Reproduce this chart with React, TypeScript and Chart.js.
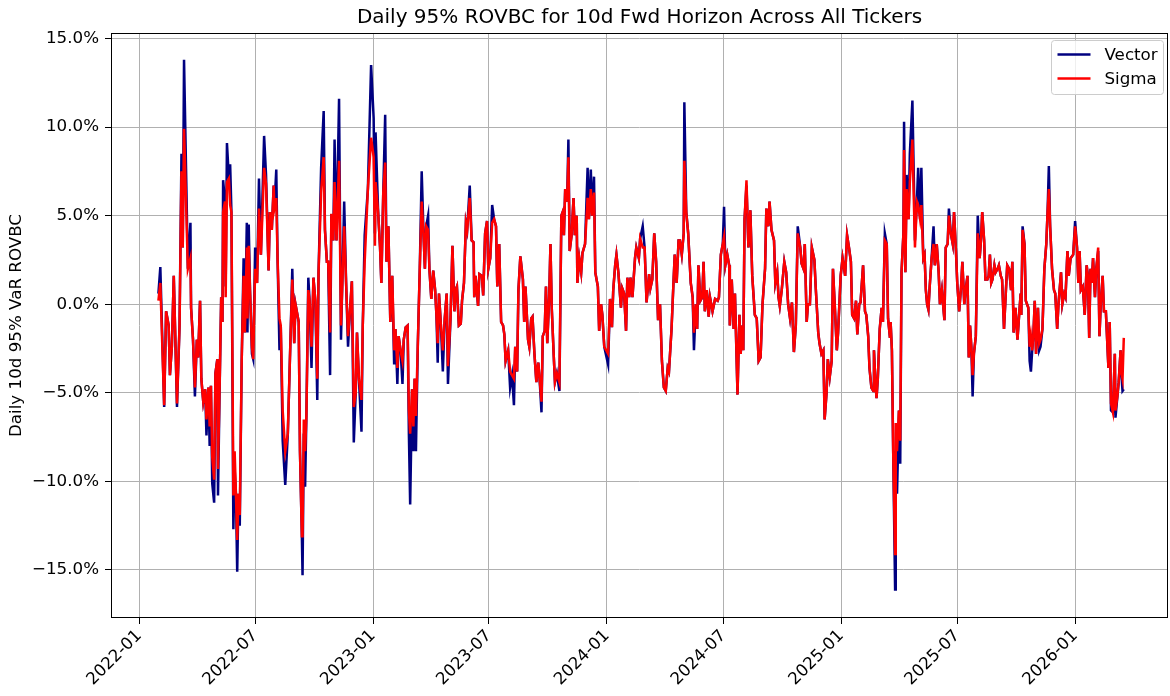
import React, { useEffect, useRef } from 'react';
import { Chart, registerables } from 'chart.js';

Chart.register(...registerables);

const CHART_TITLE = 'Daily 95% ROVBC for 10d Fwd Horizon Across All Tickers';
const Y_AXIS_LABEL = 'Daily 10d 95% VaR ROVBC';
const SERIES_NAMES = ['Vector', 'Sigma'];
const SERIES_COLORS = ['#000080', '#ff0000'];
const X_TICK_LABELS = ['2022-01', '2022-07', '2023-01', '2023-07', '2024-01', '2024-07', '2025-01', '2025-07', '2026-01'];
const Y_TICK_VALUES = [-15, -10, -5, 0, 5, 10, 15];
const X_RANGE = ['2021-11-18', '2026-05-26'];
const Y_RANGE = [-17.71, 15.31];

const DATES = [
  '2022-01-31','2022-02-03','2022-02-09','2022-02-12','2022-02-16','2022-02-18','2022-02-21','2022-02-24','2022-03-01','2022-03-05',
  '2022-03-08','2022-03-10','2022-03-12','2022-03-18','2022-03-22','2022-03-23','2022-03-26','2022-03-29','2022-04-01','2022-04-03',
  '2022-04-06','2022-04-08','2022-04-11','2022-04-14','2022-04-16','2022-04-19','2022-04-21','2022-04-23','2022-04-25','2022-04-28',
  '2022-04-30','2022-05-03','2022-05-04','2022-05-07','2022-05-09','2022-05-11','2022-05-12','2022-05-15','2022-05-16','2022-05-18',
  '2022-05-21','2022-05-23','2022-05-25','2022-05-28','2022-05-30','2022-06-01','2022-06-03','2022-06-05','2022-06-07','2022-06-10',
  '2022-06-13','2022-06-15','2022-06-18','2022-06-19','2022-06-21','2022-06-23','2022-06-26','2022-06-28','2022-07-01','2022-07-04',
  '2022-07-07','2022-07-10','2022-07-15','2022-07-18','2022-07-22','2022-07-24','2022-07-27','2022-07-30','2022-07-31','2022-08-03',
  '2022-08-05','2022-08-08','2022-08-10','2022-08-13','2022-08-17','2022-08-21','2022-08-25','2022-08-28','2022-08-31','2022-09-02',
  '2022-09-07','2022-09-09','2022-09-12','2022-09-13','2022-09-15','2022-09-17','2022-09-19','2022-09-22','2022-09-24','2022-09-27',
  '2022-09-30','2022-10-03','2022-10-06','2022-10-08','2022-10-12','2022-10-16','2022-10-18','2022-10-21','2022-10-23','2022-10-26',
  '2022-10-28','2022-10-31','2022-11-02','2022-11-05','2022-11-09','2022-11-12','2022-11-17','2022-11-20','2022-11-23','2022-11-26',
  '2022-11-29','2022-12-02','2022-12-05','2022-12-07','2022-12-10','2022-12-14','2022-12-16','2022-12-19','2022-12-24','2022-12-29',
  '2023-01-02','2023-01-04','2023-01-05','2023-01-09','2023-01-12','2023-01-14','2023-01-17','2023-01-20','2023-01-22','2023-01-25',
  '2023-01-28','2023-01-31','2023-02-03','2023-02-05','2023-02-08','2023-02-10','2023-02-13','2023-02-16','2023-02-18','2023-02-21',
  '2023-02-24','2023-02-26','2023-02-28','2023-03-03','2023-03-05','2023-03-07','2023-03-09','2023-03-12','2023-03-15','2023-03-18',
  '2023-03-21','2023-03-23','2023-03-25','2023-03-28','2023-03-30','2023-04-02','2023-04-05','2023-04-08','2023-04-10','2023-04-12',
  '2023-04-14','2023-04-17','2023-04-20','2023-04-23','2023-04-26','2023-04-28','2023-05-02','2023-05-05','2023-05-08','2023-05-10',
  '2023-05-12','2023-05-15','2023-05-18','2023-05-20','2023-05-23','2023-05-26','2023-05-28','2023-06-01','2023-06-04','2023-06-07',
  '2023-06-08','2023-06-10','2023-06-14','2023-06-16','2023-06-20','2023-06-22','2023-06-25','2023-06-28','2023-06-30','2023-07-03',
  '2023-07-06','2023-07-09','2023-07-12','2023-07-14','2023-07-17','2023-07-20','2023-07-23','2023-07-25','2023-07-27','2023-07-31',
  '2023-08-03','2023-08-06','2023-08-09','2023-08-11','2023-08-14','2023-08-16','2023-08-19','2023-08-23','2023-08-25','2023-08-27',
  '2023-08-31','2023-09-02','2023-09-05','2023-09-07','2023-09-10','2023-09-13','2023-09-16','2023-09-18','2023-09-21','2023-09-23',
  '2023-09-26','2023-09-28','2023-09-30','2023-10-03','2023-10-05','2023-10-07','2023-10-10','2023-10-12','2023-10-15','2023-10-19',
  '2023-10-22','2023-10-24','2023-10-26','2023-10-28','2023-10-31','2023-11-02','2023-11-04','2023-11-07','2023-11-10','2023-11-12',
  '2023-11-15','2023-11-16','2023-11-19','2023-11-22','2023-11-24','2023-11-28','2023-12-02','2023-12-04','2023-12-07','2023-12-09',
  '2023-12-12','2023-12-14','2023-12-18','2023-12-20','2023-12-23','2023-12-25','2023-12-28','2024-01-03','2024-01-06','2024-01-09',
  '2024-01-11','2024-01-14','2024-01-16','2024-01-19','2024-01-23','2024-01-25','2024-01-28','2024-01-31','2024-02-02','2024-02-05',
  '2024-02-07','2024-02-10','2024-02-14','2024-02-16','2024-02-20','2024-02-22','2024-02-26','2024-02-29','2024-03-03','2024-03-07',
  '2024-03-09','2024-03-12','2024-03-15','2024-03-18','2024-03-21','2024-03-24','2024-03-27','2024-03-30','2024-04-02','2024-04-05',
  '2024-04-07','2024-04-11','2024-04-14','2024-04-16','2024-04-19','2024-04-22','2024-04-24','2024-04-27','2024-04-30','2024-05-01',
  '2024-05-04','2024-05-07','2024-05-11','2024-05-14','2024-05-16','2024-05-19','2024-05-21','2024-05-23','2024-05-26','2024-05-29',
  '2024-05-31','2024-06-02','2024-06-05','2024-06-08','2024-06-10','2024-06-14','2024-06-18','2024-06-22','2024-06-24','2024-06-27',
  '2024-06-30','2024-07-02','2024-07-04','2024-07-07','2024-07-10','2024-07-11','2024-07-14','2024-07-17','2024-07-19','2024-07-23',
  '2024-07-26','2024-07-28','2024-07-30','2024-08-01','2024-08-03','2024-08-06','2024-08-09','2024-08-12','2024-08-15','2024-08-19',
  '2024-08-22','2024-08-25','2024-08-28','2024-08-31','2024-09-04','2024-09-06','2024-09-09','2024-09-11','2024-09-14','2024-09-18',
  '2024-09-20','2024-09-23','2024-09-25','2024-09-27','2024-09-30','2024-10-04','2024-10-07','2024-10-10','2024-10-13','2024-10-16',
  '2024-10-19','2024-10-22','2024-10-25','2024-10-29','2024-10-31','2024-11-03','2024-11-05','2024-11-08','2024-11-10','2024-11-13',
  '2024-11-16','2024-11-20','2024-11-22','2024-11-26','2024-11-28','2024-12-01','2024-12-04','2024-12-06','2024-12-09','2024-12-11',
  '2024-12-14','2024-12-17','2024-12-19','2024-12-22','2024-12-25','2024-12-27','2024-12-31','2025-01-03','2025-01-07','2025-01-10',
  '2025-01-13','2025-01-16','2025-01-18','2025-01-21','2025-01-24','2025-01-26','2025-01-29','2025-01-31','2025-02-04','2025-02-07',
  '2025-02-09','2025-02-12','2025-02-14','2025-02-17','2025-02-20','2025-02-21','2025-02-23','2025-02-25','2025-02-27','2025-03-02',
  '2025-03-05','2025-03-07','2025-03-10','2025-03-13','2025-03-15','2025-03-18','2025-03-19','2025-03-21','2025-03-23','2025-03-26',
  '2025-03-27','2025-03-29','2025-04-01','2025-04-03','2025-04-05','2025-04-08','2025-04-09','2025-04-11','2025-04-13','2025-04-16',
  '2025-04-18','2025-04-22','2025-04-26','2025-04-29','2025-05-01','2025-05-04','2025-05-06','2025-05-09','2025-05-11','2025-05-13',
  '2025-05-15','2025-05-17','2025-05-19','2025-05-22','2025-05-25','2025-05-27','2025-05-30','2025-06-02','2025-06-04','2025-06-07',
  '2025-06-11','2025-06-13','2025-06-16','2025-06-18','2025-06-21','2025-06-24','2025-06-26','2025-06-29','2025-07-01','2025-07-04',
  '2025-07-07','2025-07-09','2025-07-12','2025-07-14','2025-07-17','2025-07-19','2025-07-21','2025-07-23','2025-07-25','2025-07-27',
  '2025-07-30','2025-08-02','2025-08-05','2025-08-07','2025-08-09','2025-08-12','2025-08-14','2025-08-17','2025-08-19','2025-08-21',
  '2025-08-23','2025-08-25','2025-08-28','2025-08-30','2025-09-02','2025-09-04','2025-09-07','2025-09-09','2025-09-12','2025-09-15',
  '2025-09-17','2025-09-20','2025-09-23','2025-09-25','2025-09-27','2025-09-30','2025-10-03','2025-10-06','2025-10-08','2025-10-09',
  '2025-10-11','2025-10-14','2025-10-16','2025-10-20','2025-10-22','2025-10-24','2025-10-26','2025-10-28','2025-10-30','2025-11-01',
  '2025-11-04','2025-11-06','2025-11-08','2025-11-11','2025-11-14','2025-11-17','2025-11-19','2025-11-21','2025-11-23','2025-11-26',
  '2025-11-29','2025-12-01','2025-12-04','2025-12-06','2025-12-10','2025-12-12','2025-12-15','2025-12-17','2025-12-20','2025-12-22',
  '2025-12-25','2025-12-29','2026-01-01','2026-01-04','2026-01-06','2026-01-08','2026-01-10','2026-01-13','2026-01-16','2026-01-19',
  '2026-01-21','2026-01-23','2026-01-25','2026-01-27','2026-01-29','2026-02-01','2026-02-03','2026-02-06','2026-02-08','2026-02-10',
  '2026-02-13','2026-02-15','2026-02-18','2026-02-20','2026-02-22','2026-02-24','2026-02-26','2026-03-01','2026-03-04','2026-03-05',
  '2026-03-08','2026-03-10','2026-03-13','2026-03-14','2026-03-16','2026-03-18',
];

const VECTOR = [
  0.6, 2.1, -5.8, -0.4, -1.2, -4.0, -2.4, 1.6, -5.8, -1.2,
  8.5, 3.2, 13.8, 2.0, 4.6, -0.2, -2.0, -5.2, -2.0, -3.0,
  0.2, -4.2, -5.5, -4.8, -7.4, -4.7, -8.0, -4.6, -10.1, -11.2,
  -3.9, -3.1, -10.8, -3.8, 0.4, -1.0, 7.0, 5.8, 1.0, 9.1,
  7.1, 7.9, 5.2, -12.7, -9.3, -10.7, -15.1, -10.7, -12.5, -3.2,
  2.6, -1.6, 4.6, -1.6, 4.5, 0.8, -2.8, -3.1, 3.2, 1.2,
  7.1, 2.8, 9.5, 7.3, 1.9, 5.2, 4.2, 6.7, 5.4, 7.6,
  2.6, -2.6, -1.2, -7.7, -10.2, -7.3, -2.2, 2.0, -2.2, 0.0,
  -1.0, -8.3, -13.2, -15.3, -7.3, -10.3, -6.3, 1.5, 0.2, -3.6,
  1.5, 0.2, -5.4, 1.8, 7.7, 10.9, 4.2, 2.4, 2.4, -4.0,
  5.1, 3.6, 9.3, 3.6, 11.6, -2.0, 5.8, 1.2, -2.4, -0.4,
  1.3, -7.8, -5.0, -1.6, -4.2, -7.2, -1.2, 3.9, 6.5, 13.5,
  10.5, 4.0, 9.7, 5.2, 3.2, 1.2, 6.3, 10.7, 2.4, 4.4,
  -1.0, 1.6, -3.4, -1.4, -4.5, -1.8, -2.6, -4.5, -2.0, -1.3,
  -1.2, -7.3, -11.3, -4.8, -8.3, -4.2, -8.3, -2.2, 2.0, 7.5,
  3.8, 2.0, 4.4, 5.0, 2.0, 0.3, 1.9, 0.8, -0.6, -3.3,
  0.6, -1.2, -3.8, -0.8, 0.6, -4.5, -0.8, 3.3, -0.4, 0.8,
  1.0, -1.2, -1.1, 0.2, 1.2, 4.6, 4.2, 6.7, 3.6, 3.5,
  0.4, 1.6, -0.1, 1.7, 1.6, 0.5, 4.0, 4.7, 2.0, 2.6,
  5.6, 4.8, 4.4, 1.0, 3.4, -1.0, -1.2, -1.7, -3.2, -2.6,
  -4.7, -4.0, -5.7, -2.4, -3.8, 0.8, 2.7, 1.4, -1.0, 1.0,
  -2.0, -2.4, -0.8, -0.7, -2.8, -4.4, -3.3, -4.2, -6.1, -1.8,
  -1.5, 1.0, -2.2, 0.4, 3.4, -0.2, -2.8, -4.4, -3.9, -4.9,
  5.0, 5.2, 3.9, 6.5, 5.8, 9.3, 3.0, 3.9, 6.0, 3.9,
  5.0, 1.2, 2.6, 1.8, 2.9, 3.4, 7.7, 4.8, 7.6, 5.0,
  7.2, 1.8, 1.0, -1.5, 0.0, -0.6, -2.4, -3.4, 0.3, -1.3,
  0.8, 2.2, 2.8, 1.8, -0.2, 0.9, 0.6, -1.5, 1.5, 0.4,
  1.5, 0.4, 2.6, 3.2, 2.6, 3.7, 4.4, 3.2, 0.1, 1.7,
  0.9, 1.4, 4.0, 2.4, -0.9, 0.0, -3.2, -4.7, -4.9, -3.6,
  -3.8, -1.4, 1.2, 2.8, 1.2, 3.6, 3.6, 2.8, 4.0, 11.4,
  5.2, 4.0, 1.2, 0.4, -2.6, 0.0, -1.4, 2.2, 0.2, 0.4,
  2.4, -0.4, 0.8, -0.7, 0.4, -0.4, 0.3, 0.2, 0.4, 2.8,
  3.4, 5.5, 2.2, 2.8, 2.2, -1.2, 1.4, -1.4, 0.6, -5.1,
  -0.6, -2.8, -1.2, -2.6, 4.8, 6.7, 3.2, 5.3, 1.6, -0.6,
  -0.8, -3.2, -3.0, 0.0, 2.0, 5.4, 4.4, 5.8, 4.2, 3.6,
  1.2, 1.8, 0.4, -0.1, 0.8, 2.4, 1.8, 0.0, -0.8, 0.1,
  -2.7, -1.2, 4.4, 3.2, 2.3, 2.0, 3.4, -1.0, 0.0, 0.0,
  3.2, 2.5, 1.0, -1.6, -2.2, -2.8, -2.6, -6.5, -5.0, -3.1,
  -4.1, -3.2, 2.0, -0.2, -2.6, -1.6, 1.6, 2.6, 1.6, 3.9,
  3.2, 2.4, -0.6, -0.8, 0.2, -1.7, 0.0, 0.1, 2.2, -0.4,
  -0.6, -1.8, -3.6, -4.7, -4.9, -2.6, -4.2, -5.3, -4.2, -1.4,
  -0.2, -1.0, 4.0, 3.4, -0.8, -1.9, -1.0, -2.6, -8.3, -16.1,
  -8.3, -10.7, -6.0, -9.0, 1.8, 4.0, 10.3, 1.8, 7.3, 4.8,
  8.5, 11.5, 3.6, 5.8, 7.7, 4.8, 7.7, 2.6, 2.8, 0.8,
  0.0, -0.3, 1.0, 2.6, 4.4, 2.2, 3.4, 1.8, 0.0, 0.8,
  -0.9, 3.2, 3.4, 5.4, 4.0, 3.4, 5.2, 3.0, 1.2, -0.4,
  1.0, 2.4, 0.0, 0.8, 1.6, -3.0, -1.2, -2.4, -5.2, -2.8,
  -1.8, 5.0, 2.6, 3.6, 5.2, 3.6, 1.4, 1.4, 1.6, 2.8,
  1.2, 1.4, 2.2, 1.8, 2.0, 2.2, 1.6, 1.4, -1.4, 0.8,
  2.2, 2.0, 0.8, 2.4, -1.6, -0.2, -2.0, -0.4, 0.6, -0.6,
  4.4, 3.4, 0.2, -0.2, -3.2, -3.8, -2.6, -1.6, 0.2, -2.8,
  -0.2, -2.6, -2.4, -1.4, 2.0, 3.4, 5.2, 7.8, 4.4, 2.0,
  0.8, 0.6, -1.4, 0.0, 1.8, 0.0, 0.6, 0.4, 3.0, 1.6,
  2.6, 2.8, 4.7, 3.2, 1.2, 3.0, 0.8, 1.0, -0.6, 2.2,
  1.6, -1.9, 2.0, 1.2, 2.6, 0.4, 2.0, 3.0, -1.8, 0.0,
  1.6, -0.4, -0.4, -2.0, -3.6, -1.0, -6.0, -6.1, -2.8, -6.4,
  -5.2, -4.4, -2.6, -3.8, -4.9, -4.8,
];

const SIGMA = [
  0.2, 1.2, -5.7, -0.4, -1.2, -4.0, -2.4, 1.6, -5.6, -1.2,
  7.5, 3.2, 9.9, 2.0, 2.6, -0.2, -2.0, -4.7, -2.0, -3.0,
  0.2, -4.2, -5.5, -4.8, -6.5, -4.7, -6.9, -4.6, -8.6, -9.9,
  -3.9, -3.1, -9.3, -3.8, 0.4, -1.0, 5.2, 5.8, 0.4, 6.9,
  7.1, 5.6, 5.2, -10.8, -8.3, -10.7, -13.3, -10.7, -11.9, -3.2,
  1.6, -1.6, 3.2, -0.8, 3.3, 0.8, -2.4, -3.1, 2.0, 1.2,
  5.4, 2.8, 7.7, 6.8, 1.9, 5.2, 4.2, 6.7, 5.4, 6.0,
  2.6, -0.8, -1.2, -6.0, -8.3, -7.3, -2.2, 1.4, -2.2, 0.0,
  -1.0, -8.3, -13.1, -13.1, -6.5, -8.3, -6.3, 0.8, 0.2, -2.4,
  1.5, 0.2, -4.2, 1.8, 6.3, 8.3, 4.2, 2.4, 2.4, -1.6,
  5.1, 3.6, 6.9, 3.6, 8.1, -1.2, 4.4, 1.2, -1.8, -0.4,
  1.3, -5.8, -5.0, -1.6, -4.2, -5.4, -1.2, 2.4, 6.5, 9.4,
  8.3, 3.3, 6.9, 5.2, 3.2, 1.2, 6.3, 8.0, 2.4, 4.4,
  -1.0, 1.6, -2.6, -1.4, -3.6, -1.8, -2.6, -3.2, -2.0, -1.3,
  -1.2, -6.0, -7.3, -4.8, -6.9, -4.2, -6.3, -2.2, 2.0, 5.8,
  3.8, 2.0, 4.4, 4.2, 2.0, 0.3, 1.9, 0.8, -0.6, -2.2,
  0.6, -1.2, -2.6, -0.8, 0.6, -3.5, -0.8, 3.3, -0.4, 0.8,
  1.0, -1.2, -1.1, 0.2, 1.2, 4.6, 4.2, 6.0, 3.6, 3.5,
  0.4, 1.6, -0.1, 1.7, 1.6, 0.5, 4.0, 4.7, 2.0, 2.6,
  4.6, 4.8, 4.4, 1.0, 3.4, -1.0, -1.2, -1.7, -3.2, -2.6,
  -3.8, -4.0, -4.2, -2.4, -3.8, 0.8, 2.7, 1.4, -1.0, 1.0,
  -2.0, -2.4, -0.8, -0.7, -2.8, -4.4, -3.3, -4.2, -5.5, -1.8,
  -1.5, 1.0, -2.2, 0.4, 3.4, -0.2, -2.8, -4.4, -3.9, -4.4,
  5.0, 5.2, 3.9, 6.5, 5.8, 8.3, 3.0, 3.9, 6.0, 3.9,
  5.0, 1.2, 2.6, 1.8, 2.9, 3.4, 6.0, 4.8, 6.5, 5.0,
  6.3, 1.8, 1.0, -1.5, 0.0, -0.6, -2.4, -2.8, 0.3, -1.3,
  0.8, 2.2, 2.8, 1.8, -0.2, 0.9, 0.6, -1.5, 1.5, 0.4,
  1.5, 0.4, 2.6, 3.2, 2.6, 3.7, 3.2, 3.2, 0.1, 1.7,
  0.9, 1.4, 4.0, 2.4, -0.9, 0.0, -3.2, -4.7, -4.9, -3.6,
  -3.8, -1.4, 1.2, 2.8, 1.2, 3.6, 3.6, 2.8, 4.0, 8.1,
  5.2, 4.0, 1.2, 0.4, -1.6, 0.0, -1.4, 2.2, 0.2, 0.4,
  2.4, -0.4, 0.8, -0.7, 0.4, -0.4, 0.3, 0.2, 0.4, 2.8,
  3.4, 3.8, 2.2, 2.8, 2.2, -1.2, 1.4, -1.4, 0.6, -5.1,
  -0.6, -2.8, -1.2, -2.6, 4.8, 7.0, 3.2, 5.3, 1.6, -0.6,
  -0.8, -3.2, -3.0, 0.0, 2.0, 5.4, 4.4, 5.8, 4.2, 3.6,
  1.2, 1.8, 0.4, -0.1, 0.8, 2.4, 1.8, 0.0, -0.8, 0.1,
  -2.7, -1.2, 4.0, 3.2, 2.3, 2.0, 3.4, -1.0, 0.0, 0.0,
  3.2, 2.5, 1.0, -1.6, -2.2, -2.8, -2.6, -6.5, -5.0, -3.1,
  -4.1, -3.2, 2.0, -0.2, -2.6, -1.6, 1.6, 2.6, 1.6, 3.9,
  3.2, 2.4, -0.6, -0.8, 0.2, -1.7, 0.0, 0.1, 2.2, -0.4,
  -0.6, -1.8, -3.6, -4.7, -4.9, -2.6, -4.2, -5.3, -4.2, -1.4,
  -0.2, -1.0, 3.6, 3.4, -0.8, -1.9, -1.0, -2.6, -8.3, -14.1,
  -6.7, -8.3, -6.0, -7.7, 1.8, 4.0, 8.7, 1.8, 6.5, 4.8,
  6.9, 9.3, 3.2, 5.8, 5.6, 4.8, 5.6, 2.6, 2.8, 0.8,
  0.0, -0.3, 1.0, 2.6, 3.4, 2.2, 3.4, 1.8, 0.0, 0.8,
  -0.9, 3.2, 3.4, 5.0, 4.0, 3.4, 5.2, 3.0, 1.2, -0.4,
  1.0, 2.4, 0.0, 0.8, 1.6, -3.0, -1.2, -2.4, -4.0, -2.8,
  -1.8, 4.0, 2.6, 3.6, 5.2, 3.6, 1.4, 1.4, 1.6, 2.8,
  1.2, 1.4, 2.2, 1.8, 2.0, 2.2, 1.6, 1.4, -1.4, 0.8,
  2.2, 2.0, 0.8, 2.4, -1.6, -0.2, -2.0, -0.4, 0.6, -0.6,
  4.2, 3.4, 0.2, -0.2, -2.4, -1.8, -2.6, -1.6, 0.2, -2.8,
  -0.2, -2.2, -2.0, -1.4, 2.0, 3.4, 5.2, 6.5, 4.4, 2.0,
  0.8, 0.6, -1.4, 0.0, 1.8, 0.0, 0.6, 0.4, 3.0, 1.6,
  2.6, 2.8, 4.4, 3.2, 1.2, 3.0, 0.8, 1.0, -0.6, 2.2,
  1.6, -1.9, 2.0, 1.2, 2.6, 0.4, 2.0, 3.2, -1.8, 0.0,
  1.6, -0.4, -0.4, -2.0, -3.6, -1.0, -5.6, -6.1, -2.8, -6.0,
  -5.2, -4.4, -2.6, -3.8, -4.2, -1.9,
];

const FONT = "'DejaVu Sans', 'Liberation Sans', sans-serif";
const toMs = (d: string) => Date.parse(d + 'T00:00:00Z');
const TICK_LABEL_BY_VALUE = new Map<number, string>(X_TICK_LABELS.map((l) => [toMs(l + '-01'), l]));

const overlayPlugin = {
  id: 'overlay',
  afterDraw(chart: any) {
    const { ctx, chartArea: a } = chart;
    ctx.save();
    // frame (all four spines)
    ctx.strokeStyle = '#000';
    ctx.lineWidth = 1;
    const l = Math.round(a.left) + 0.5;
    const t = Math.round(a.top) + 0.5;
    const r = Math.round(a.right) - 0.5;
    const b = Math.round(a.bottom) - 0.5;
    ctx.strokeRect(l, t, r - l, b - t);
    // title
    ctx.fillStyle = '#000';
    ctx.font = `20px ${FONT}`;
    ctx.textAlign = 'center';
    ctx.textBaseline = 'alphabetic';
    ctx.fillText(CHART_TITLE, (a.left + a.right) / 2, a.top - 10);
    // legend
    const bx = a.right - 116.5;
    const by = a.top + 7.5;
    const bw = 112;
    const bh = 54;
    ctx.beginPath();
    ctx.roundRect(bx, by, bw, bh, 3);
    ctx.fillStyle = 'rgba(255,255,255,0.8)';
    ctx.fill();
    ctx.strokeStyle = '#cccccc';
    ctx.lineWidth = 1;
    ctx.stroke();
    ctx.font = `16.7px ${FONT}`;
    ctx.textAlign = 'left';
    ctx.textBaseline = 'middle';
    SERIES_NAMES.forEach((name, i) => {
      const y = by + 14 + i * 24;
      ctx.beginPath();
      ctx.moveTo(bx + 6, y);
      ctx.lineTo(bx + 39, y);
      ctx.strokeStyle = SERIES_COLORS[i];
      ctx.lineWidth = 2.5;
      ctx.stroke();
      ctx.fillStyle = '#000';
      ctx.fillText(name, bx + 53, y + 1);
    });
    ctx.restore();
  },
};

export default function App() {
  const canvasRef = useRef<HTMLCanvasElement>(null);

  useEffect(() => {
    const canvas = canvasRef.current;
    if (!canvas) return;
    const series = [VECTOR, SIGMA];
    const chart = new Chart(canvas, {
      type: 'line',
      data: {
        datasets: series.map((vals, si) => ({
          label: SERIES_NAMES[si],
          data: DATES.map((d, i) => ({ x: toMs(d), y: vals[i] })),
          borderColor: SERIES_COLORS[si],
          backgroundColor: SERIES_COLORS[si],
          borderWidth: 2.5,
          pointRadius: 0,
          tension: 0,
          fill: false,
          order: si === 0 ? 2 : 1,
        })),
      },
      options: {
        animation: false,
        responsive: true,
        maintainAspectRatio: false,
        devicePixelRatio: 1,
        layout: { padding: { top: 33, right: 2, left: 0, bottom: 0 } },
        plugins: { legend: { display: false }, tooltip: { enabled: false }, title: { display: false } },
        scales: {
          x: {
            type: 'linear',
            min: toMs(X_RANGE[0]),
            max: toMs(X_RANGE[1]),
            afterBuildTicks: (scale: any) => {
              scale.ticks = X_TICK_LABELS.map((l) => ({ value: toMs(l + '-01') }));
            },
            afterFit: (scale: any) => {
              scale.height = 78;
            },
            ticks: {
              autoSkip: false,
              maxRotation: 45,
              minRotation: 45,
              color: '#000',
              padding: 2,
              font: { family: FONT, size: 16.7 },
              callback: (v: any) => TICK_LABEL_BY_VALUE.get(Number(v)) ?? '',
            },
            grid: { color: '#b0b0b0', lineWidth: 1, tickColor: '#000', tickWidth: 1, tickLength: 6, drawTicks: true },
            border: { display: false },
          },
          y: {
            type: 'linear',
            min: Y_RANGE[0],
            max: Y_RANGE[1],
            afterBuildTicks: (scale: any) => {
              scale.ticks = Y_TICK_VALUES.map((v) => ({ value: v }));
            },
            afterFit: (scale: any) => {
              scale.width = 111;
            },
            ticks: {
              color: '#000',
              padding: 6,
              font: { family: FONT, size: 16.7 },
              callback: (v: any) => (Number(v) < 0 ? '\u2212' : '') + Math.abs(Number(v)).toFixed(1) + '%',
            },
            grid: { color: '#b0b0b0', lineWidth: 1, tickColor: '#000', tickWidth: 1, tickLength: 6, drawTicks: true },
            border: { display: false },
            title: {
              display: true,
              text: Y_AXIS_LABEL,
              color: '#000',
              font: { family: FONT, size: 16.7 },
              padding: { top: 7, bottom: 0 },
            },
          },
        },
      },
      plugins: [overlayPlugin],
    } as any);
    return () => chart.destroy();
  }, []);

  return (
    <div style={{ position: 'absolute', left: 0, top: 0, width: 1170, height: 696, background: '#fff' }}>
      <canvas ref={canvasRef} />
    </div>
  );
}
